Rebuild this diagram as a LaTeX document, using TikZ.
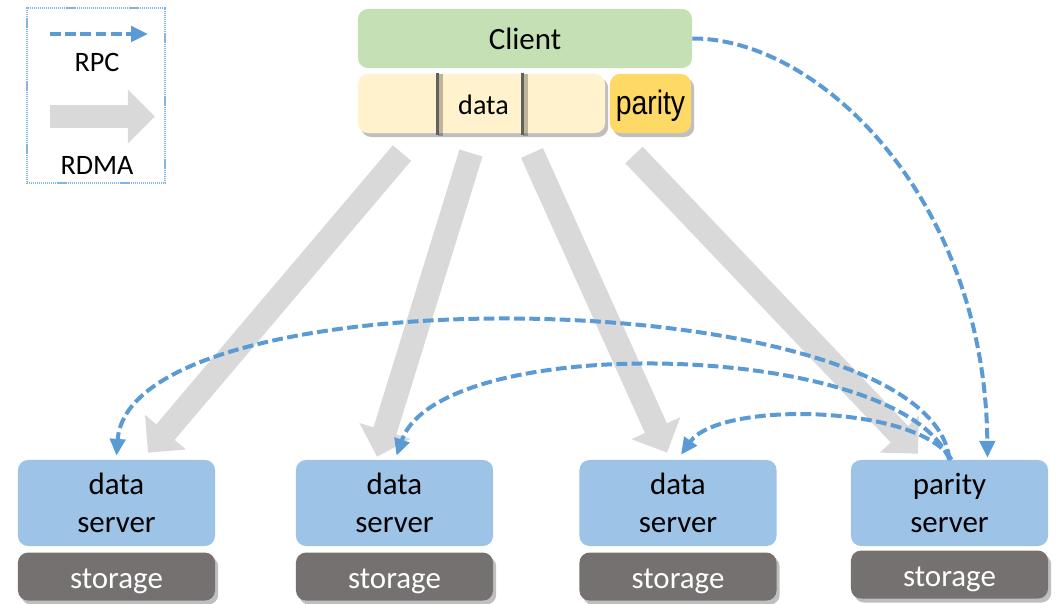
\documentclass[tikz,border=0pt]{standalone}
\usepackage{fontspec}
\setmainfont{Carlito}
\newfontfamily\arialfont{Liberation Sans}
\usetikzlibrary{positioning,arrows.meta,shadows}
\definecolor{clientgreen}{HTML}{C5E0B4}
\definecolor{datayellow}{HTML}{FFF2CC}
\definecolor{paritygold}{HTML}{FFD966}
\definecolor{serverblue}{HTML}{9DC3E6}
\definecolor{storagegray}{HTML}{767171}
\definecolor{rdmagray}{HTML}{D9D9D9}
\definecolor{rpcblue}{HTML}{5B9BD5}
\tikzset{
  box/.style={rounded corners=0.25cm, inner sep=0pt, align=center, font=\fontsize{22}{27}\selectfont},
  shade box/.style={drop shadow={shadow xshift=0.08cm, shadow yshift=-0.1cm, opacity=0.25, fill=black}},
  server/.style={box, fill=serverblue, minimum width=4.925cm, minimum height=2.15cm},
  storage/.style={box, fill=storagegray, text=white, minimum width=4.925cm, minimum height=1.2cm, text height=0.6cm, text depth=0pt, shade box},
  divider/.style={draw=black!62, line width=0.065cm},
  rdma/.style={draw=rdmagray, line width=0.6cm, -{Triangle[length=0.675cm, width=1.3cm]}},
  rpc/.style={draw=rpcblue, line width=0.1cm, dash pattern=on 0.27cm off 0.11cm, -{Triangle[length=0.42cm, width=0.38cm]}},
  legendtext/.style={font=\fontsize{20}{24}\selectfont}
}
\begin{document}
\begin{tikzpicture}[x=0.025cm, y=-0.025cm]
\useasboundingbox (0,0) rectangle (1061,604);
% legend
\node[draw=rpcblue!75, dash pattern=on 0.8pt off 0.6pt, line width=0.8pt, minimum width=3.45cm, minimum height=4.375cm] (legend) at (96,95.5) {};
\node[legendtext] (rpclabel) at (97,62) {RPC};
\node[legendtext] (rdmalabel) at (97,165) {RDMA};
\coordinate (rpcA) at (50,34); \coordinate (rpcB) at (148,34);
\coordinate (rdmaA) at (50,116.5); \coordinate (rdmaB) at (155,116.5);
\draw[rpc] (rpcA) -- (rpcB);
\draw[rdma, line width=0.575cm] (rdmaA) -- (rdmaB);
% client and its stripe
\node[box, fill=clientgreen, minimum width=8.35cm, minimum height=1.475cm] (client) at (525,38.5) {Client};
\node[box, fill=datayellow, minimum width=6.175cm, minimum height=1.475cm, text height=0.56cm, text depth=0pt, shade box, font=\fontsize{20}{24}\selectfont] (data) at (481.5,103.5) {\hspace*{0.1cm}data};
\node[box, fill=paritygold, minimum width=2.025cm, minimum height=1.475cm, text height=0.56cm, text depth=0pt, shade box, font=\arialfont\fontsize{24}{28}\selectfont] (parity) at (650.5,103.5) {\scalebox{0.84}[1]{parity}};
\foreach \x in {80,165} {
  \draw[black, opacity=0.25, line width=0.12cm] ([shift={(\x+3,0)}]data.north west) -- ([shift={(\x+3,3)}]data.south west);
  \draw[divider] ([shift={(\x,-1)}]data.north west) -- ([shift={(\x,2)}]data.south west);
}
% servers
\node[server] (ds1) at (116.5,503) {data\\server};
\node[server] (ds2) at (394.5,503) {data\\server};
\node[server] (ds3) at (678,503) {data\\server};
\node[server] (ps) at (949.5,503) {parity\\server};
\node[storage, below=0.15cm of ds1] (st1) {storage};
\node[storage, below=0.15cm of ds2] (st2) {storage};
\node[storage, below=0.15cm of ds3] (st3) {storage};
\node[storage, below=0.1cm of ps] (st4) {storage};
% RDMA writes
\coordinate (w1) at (402,153); \coordinate (w2) at (471,153);
\coordinate (w3) at (532,153); \coordinate (w4) at (634,155);
\draw[rdma] (w1) -- ([shift={(31.5,-7)}]ds1.north);
\draw[rdma] (w2) -- ([shift={(-17.5,-3)}]ds2.north);
\draw[rdma] (w3) -- ([shift={(-11,-7)}]ds3.north);
\draw[rdma] (w4) -- ([shift={(-31.5,-6)}]ps.north);
% RPCs
\draw[rpc] (client.east) .. controls (820,38) and (985,200) .. ([shift={(38,-2)}]ps.north);
\draw[rpc] (ps.north) .. controls (930,280) and (130,270) .. ([shift={(0,-4)}]ds1.north);
\draw[rpc] (ps.north) .. controls (900,340) and (440,330) .. ([shift={(2,-4)}]ds2.north);
\draw[rpc] ([shift={(2,0)}]ps.north) .. controls (920,405) and (720,400) .. ([shift={(3,-5)}]ds3.north);
\end{tikzpicture}
\end{document}
